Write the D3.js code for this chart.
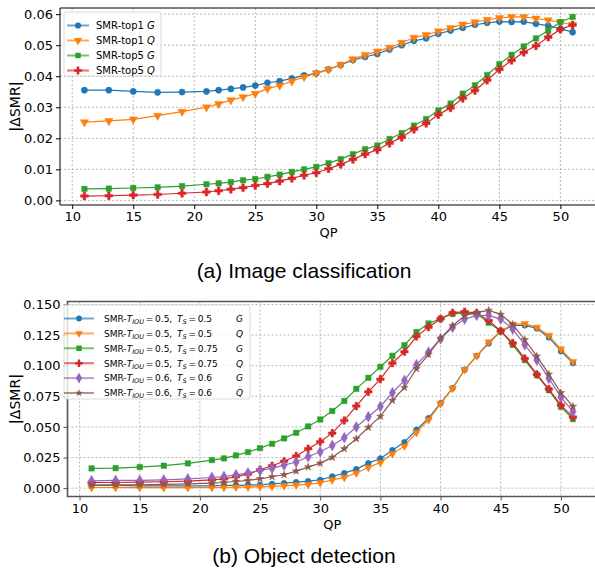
<!DOCTYPE html>
<html>
<head>
<meta charset="utf-8">
<script src="https://cdn.jsdelivr.net/npm/d3@7"></script>
<style>
  body { margin: 0; background: #fff; }
  svg { display: block; font-family: "DejaVu Sans", sans-serif; }
  .grid line { stroke: #b0b0b0; stroke-width: 0.9; stroke-dasharray: 2,2; }
  .axis path { display: none; }
  .axis text { fill: #000; }
  .caption { font-family: "Liberation Sans", Arial, sans-serif; font-size: 21px; }
</style>
</head>
<body>
<svg id="chart" width="595" height="578"></svg>
<script>
// QP values shared by both panels
const qp = [11, 13, 15, 17, 19, 21, 22, 23, 24, 25, 26, 27, 28, 29, 30, 31, 32, 33, 34, 35,
  36, 37, 38, 39, 40, 41, 42, 43, 44, 45, 46, 47, 48, 49, 50, 51];

// (a) Image classification
const top1G = [0.0355, 0.0355, 0.0351, 0.0348, 0.0349, 0.0351, 0.0355, 0.0359, 0.0364, 0.0370, 0.0379, 0.0384,
  0.0393, 0.0403, 0.0409, 0.0422, 0.0436, 0.0452, 0.0462, 0.0472, 0.0486, 0.0500, 0.0514, 0.0522, 0.0537,
  0.0547, 0.0556, 0.0566, 0.0572, 0.0576, 0.0575, 0.0576, 0.0569, 0.0563, 0.0553, 0.0542];
const top1Q = [0.0252, 0.0256, 0.0261, 0.0273, 0.0286, 0.0300, 0.0311, 0.0323, 0.0333, 0.0344, 0.0360, 0.0370,
  0.0384, 0.0398, 0.0410, 0.0422, 0.0437, 0.0455, 0.0469, 0.0480, 0.0492, 0.0508, 0.0524, 0.0533, 0.0545,
  0.0556, 0.0567, 0.0574, 0.0582, 0.0588, 0.0591, 0.0591, 0.0586, 0.0581, 0.0574, 0.0566];
const top5G = [0.0037, 0.0038, 0.0040, 0.0042, 0.0046, 0.0052, 0.0055, 0.0059, 0.0065, 0.0069, 0.0076, 0.0083,
  0.0092, 0.0100, 0.0108, 0.0120, 0.0133, 0.0149, 0.0165, 0.0177, 0.0198, 0.0217, 0.0241, 0.0262, 0.0290,
  0.0312, 0.0344, 0.0371, 0.0404, 0.0439, 0.0469, 0.0496, 0.0522, 0.0547, 0.0575, 0.0591];
const top5Q = [0.0014, 0.0015, 0.0017, 0.0019, 0.0023, 0.0027, 0.0031, 0.0036, 0.0041, 0.0048, 0.0054, 0.0062,
  0.0071, 0.0081, 0.0089, 0.0102, 0.0116, 0.0132, 0.0149, 0.0163, 0.0184, 0.0203, 0.0229, 0.0248, 0.0276,
  0.0298, 0.0329, 0.0354, 0.0387, 0.0422, 0.0451, 0.0477, 0.0498, 0.0526, 0.0551, 0.0565];

// (b) Object detection
const iou05ts05G = [0.0022, 0.0022, 0.0019, 0.0019, 0.0019, 0.0019, 0.0022, 0.0022, 0.0025, 0.0027, 0.0035, 0.0041,
  0.0049, 0.0057, 0.0068, 0.0095, 0.0123, 0.0155, 0.0204, 0.0242, 0.0310, 0.0376, 0.0477, 0.0572, 0.0694,
  0.0817, 0.0967, 0.1081, 0.1182, 0.1280, 0.1329, 0.1329, 0.1304, 0.1231, 0.1119, 0.1021];
const iou05ts05Q = [0.0005, 0.0005, 0.0004, 0.0004, 0.0004, 0.0005, 0.0005, 0.0008, 0.0008, 0.0011, 0.0014, 0.0019,
  0.0025, 0.0030, 0.0044, 0.0067, 0.0087, 0.0123, 0.0169, 0.0210, 0.0280, 0.0343, 0.0455, 0.0558, 0.0689,
  0.0814, 0.0967, 0.1081, 0.1193, 0.1283, 0.1337, 0.1343, 0.1313, 0.1247, 0.1136, 0.1032];
const iou05ts075G = [0.0161, 0.0163, 0.0172, 0.0183, 0.0202, 0.0229, 0.0243, 0.0267, 0.0294, 0.0327, 0.0362, 0.0406,
  0.0452, 0.0504, 0.0561, 0.0630, 0.0712, 0.0811, 0.0901, 0.0991, 0.1081, 0.1168, 0.1275, 0.1345, 0.1383,
  0.1424, 0.1430, 0.1424, 0.1351, 0.1283, 0.1171, 0.1046, 0.0923, 0.0801, 0.0664, 0.0564];
const iou05ts075Q = [0.0046, 0.0046, 0.0049, 0.0052, 0.0057, 0.0068, 0.0076, 0.0093, 0.0114, 0.0150, 0.0183, 0.0220,
  0.0262, 0.0322, 0.0379, 0.0449, 0.0553, 0.0670, 0.0787, 0.0890, 0.1021, 0.1114, 0.1239, 0.1315, 0.1383,
  0.1432, 0.1441, 0.1430, 0.1370, 0.1283, 0.1185, 0.1059, 0.0929, 0.0809, 0.0678, 0.0580];
const iou06ts06G = [0.0060, 0.0063, 0.0063, 0.0068, 0.0076, 0.0087, 0.0095, 0.0109, 0.0125, 0.0144, 0.0161, 0.0188,
  0.0213, 0.0256, 0.0297, 0.0348, 0.0412, 0.0499, 0.0583, 0.0667, 0.0779, 0.0880, 0.1008, 0.1111, 0.1220,
  0.1313, 0.1381, 0.1411, 0.1411, 0.1381, 0.1299, 0.1171, 0.1046, 0.0896, 0.0743, 0.0624];
const iou06ts06Q = [0.0025, 0.0027, 0.0027, 0.0030, 0.0035, 0.0041, 0.0046, 0.0054, 0.0063, 0.0076, 0.0093, 0.0109,
  0.0139, 0.0172, 0.0204, 0.0251, 0.0321, 0.0403, 0.0496, 0.0586, 0.0716, 0.0822, 0.0975, 0.1092, 0.1223,
  0.1326, 0.1408, 0.1435, 0.1452, 0.1419, 0.1337, 0.1212, 0.1078, 0.0931, 0.0779, 0.0667];

const xTicks = [10, 15, 20, 25, 30, 35, 40, 45, 50];
const yTicksA = [0, 0.01, 0.02, 0.03, 0.04, 0.05, 0.06];
const yTicksB = [0, 0.025, 0.05, 0.075, 0.1, 0.125, 0.15];

const colors = ['#1f77b4', '#ff7f0e', '#2ca02c', '#d62728', '#9467bd', '#8c564b'];

class LinePanel {

  constructor(_config, _series) {
    this.config = {
      parentElement: _config.parentElement,
      left: _config.left,
      top: _config.top,
      width: _config.width,
      height: _config.height,
      yTicks: _config.yTicks,
      yFormat: _config.yFormat,
      spineColor: _config.spineColor || '#000',
      spineWidth: _config.spineWidth || 1,
      legend: _config.legend
    };
    this.series = _series;
    this.initVis();
  }

  initVis() {
    let vis = this;
    const c = vis.config;

    vis.svg = d3.select(c.parentElement);
    vis.chart = vis.svg.append('g')
        .attr('transform', `translate(${c.left},${c.top})`);

    // matplotlib style 5% margins on both axes
    const [x0, x1] = d3.extent(qp);
    const xPad = (x1 - x0) * 0.05;
    vis.xScale = d3.scaleLinear()
        .domain([x0 - xPad, x1 + xPad])
        .range([0, c.width]);

    const [y0, y1] = d3.extent(vis.series.flatMap(s => s.values));
    const yPad = (y1 - y0) * 0.05;
    vis.yScale = d3.scaleLinear()
        .domain([y0 - yPad, y1 + yPad])
        .range([c.height, 0]);

    vis.renderVis();
  }

  renderVis() {
    let vis = this;
    const c = vis.config;

    // Grid
    vis.chart.append('g').attr('class', 'grid')
      .selectAll('line').data(xTicks).join('line')
        .attr('x1', d => vis.xScale(d)).attr('x2', d => vis.xScale(d))
        .attr('y1', 0).attr('y2', c.height);
    vis.chart.append('g').attr('class', 'grid')
      .selectAll('line').data(c.yTicks).join('line')
        .attr('x1', 0).attr('x2', c.width)
        .attr('y1', d => vis.yScale(d)).attr('y2', d => vis.yScale(d));

    const line = d3.line()
        .x((d, i) => vis.xScale(qp[i]))
        .y(d => vis.yScale(d));

    const groups = vis.chart.selectAll('.series')
        .data(vis.series)
      .join('g')
        .attr('class', 'series');

    groups.append('path')
        .attr('d', d => line(d.values))
        .attr('fill', 'none')
        .attr('stroke', d => d.color)
        .attr('stroke-width', 1.2);

    groups.each(function(s) {
      d3.select(this).selectAll('path.mark')
          .data(s.values)
        .join('path')
          .attr('class', 'mark')
          .attr('d', d3.symbol().type(s.symbol).size(s.size))
          .attr('transform', (d, i) => `translate(${vis.xScale(qp[i])},${vis.yScale(d)}) rotate(${s.rotate || 0})`)
          .attr('fill', s.color)
          .attr('stroke', s.color)
          .attr('stroke-opacity', 0.45)
          .attr('stroke-width', 1);
    });

    // Axes
    vis.chart.append('g')
        .attr('class', 'axis')
        .attr('transform', `translate(0,${c.height})`)
        .call(d3.axisBottom(vis.xScale).tickValues(xTicks).tickSize(4).tickPadding(3))
        .call(g => g.selectAll('text').attr('font-size', 13).attr('font-family', 'DejaVu Sans'))
        .call(g => g.selectAll('line').attr('stroke', c.spineColor));

    vis.chart.append('g')
        .attr('class', 'axis')
        .call(d3.axisLeft(vis.yScale).tickValues(c.yTicks).tickFormat(d3.format(c.yFormat)).tickSize(4).tickPadding(3))
        .call(g => g.selectAll('text').attr('font-size', 13).attr('font-family', 'DejaVu Sans'))
        .call(g => g.selectAll('line').attr('stroke', c.spineColor));

    // Spines (right one falls outside the picture)
    vis.chart.append('path')
        .attr('d', `M${c.width},0H0V${c.height}H${c.width}`)
        .attr('fill', 'none')
        .attr('stroke', c.spineColor)
        .attr('stroke-width', c.spineWidth);

    // Axis titles
    vis.chart.append('text')
        .attr('x', c.width / 2)
        .attr('y', c.height + 32)
        .attr('text-anchor', 'middle')
        .attr('font-size', 13)
        .text('QP');

    const yl = vis.chart.append('text')
        .attr('transform', `translate(${-c.left + 20},${c.height / 2}) rotate(-90)`)
        .attr('text-anchor', 'middle')
        .attr('font-size', 14);
    yl.append('tspan').attr('font-weight', 'bold').text('|');
    yl.append('tspan').text('ΔSMR');
    yl.append('tspan').attr('font-weight', 'bold').text('|');

    vis.renderLegend();
  }

  renderLegend() {
    let vis = this;
    const L = vis.config.legend;

    const lg = vis.chart.append('g')
        .attr('transform', `translate(${L.x},${L.y})`);

    lg.append('rect')
        .attr('width', L.width)
        .attr('height', L.height)
        .attr('rx', 2)
        .attr('fill', '#fff')
        .attr('fill-opacity', 0.8)
        .attr('stroke', '#d0d0d0')
        .attr('stroke-width', 0.8);

    const rows = lg.selectAll('.entry')
        .data(vis.series)
      .join('g')
        .attr('class', 'entry')
        .attr('transform', (d, i) => `translate(0,${L.first + i * L.step})`);

    rows.append('line')
        .attr('x1', L.lineX0).attr('x2', L.lineX1)
        .attr('stroke', d => d.color)
        .attr('stroke-opacity', 0.65)
        .attr('stroke-width', 2);

    rows.append('path')
        .attr('d', d => d3.symbol().type(d.symbol).size(d.size)())
        .attr('transform', d => `translate(${(L.lineX0 + L.lineX1) / 2},0) rotate(${d.rotate || 0})`)
        .attr('fill', d => d.color);

    rows.each(function(d) {
      L.label(d3.select(this), d);
    });
  }
}

const triDown = 180;
const thin = '\u2009';

// Panel (a)
const seriesA = [
  {name: 'SMR-top1', tag: 'G', values: top1G, color: colors[0], symbol: d3.symbolCircle, size: 30},
  {name: 'SMR-top1', tag: 'Q', values: top1Q, color: colors[1], symbol: d3.symbolTriangle, size: 30, rotate: triDown},
  {name: 'SMR-top5', tag: 'G', values: top5G, color: colors[2], symbol: d3.symbolSquare, size: 30},
  {name: 'SMR-top5', tag: 'Q', values: top5Q, color: colors[3], symbol: d3.symbolCross, size: 34}
];

new LinePanel({
  parentElement: '#chart',
  left: 60, top: 8, width: 537, height: 197,
  yTicks: yTicksA, yFormat: '.2f',
  spineColor: '#000', spineWidth: 1,
  legend: {
    x: 4, y: 4, width: 97, height: 64, first: 13.5, step: 15,
    lineX0: 3, lineX1: 25,
    label: (g, d) => {
      const t = g.append('text').attr('x', 32).attr('y', 3.6).attr('font-size', 10);
      t.append('tspan').text(d.name + ' ');
      t.append('tspan').attr('font-style', 'italic').text(d.tag);
    }
  }
}, seriesA);

// Panel (b)
const seriesB = [
  {iou: '0.5', ts: '0.5', tag: 'G', values: iou05ts05G, color: colors[0], symbol: d3.symbolCircle, size: 26},
  {iou: '0.5', ts: '0.5', tag: 'Q', values: iou05ts05Q, color: colors[1], symbol: d3.symbolTriangle, size: 26, rotate: triDown},
  {iou: '0.5', ts: '0.75', tag: 'G', values: iou05ts075G, color: colors[2], symbol: d3.symbolSquare, size: 30},
  {iou: '0.5', ts: '0.75', tag: 'Q', values: iou05ts075Q, color: colors[3], symbol: d3.symbolCross, size: 32},
  {iou: '0.6', ts: '0.6', tag: 'G', values: iou06ts06G, color: colors[4], symbol: d3.symbolDiamond, size: 34},
  {iou: '0.6', ts: '0.6', tag: 'Q', values: iou06ts06Q, color: colors[5], symbol: d3.symbolStar, size: 18}
];

new LinePanel({
  parentElement: '#chart',
  left: 67.5, top: 301.5, width: 529.5, height: 195,
  yTicks: yTicksB, yFormat: '.3f',
  spineColor: '#555', spineWidth: 1.6,
  legend: {
    x: -3.5, y: 3.5, width: 186, height: 94, first: 13.5, step: 14.9,
    lineX0: 0, lineX1: 30,
    label: (g, d) => {
      const t1 = g.append('text').attr('x', 40).attr('y', 3.3).attr('font-size', 9);
      t1.append('tspan').text('SMR-');
      t1.append('tspan').attr('font-style', 'italic').text('T');
      t1.append('tspan').attr('font-style', 'italic').attr('font-size', 6.5).attr('dy', 2).text('IOU');
      t1.append('tspan').attr('dy', -2).text(`${thin}=${thin}${d.iou},`);
      const t2 = g.append('text').attr('x', 113).attr('y', 3.3).attr('font-size', 9);
      t2.append('tspan').attr('font-style', 'italic').text('T');
      t2.append('tspan').attr('font-style', 'italic').attr('font-size', 6.5).attr('dy', 2).text('S');
      t2.append('tspan').attr('dy', -2).text(`${thin}=${thin}${d.ts}`);
      g.append('text').attr('x', 172).attr('y', 3.3).attr('font-size', 9)
          .attr('font-style', 'italic').text(d.tag);
    }
  }
}, seriesB);

// Captions
const svg = d3.select('#chart');
svg.append('text').attr('class', 'caption')
    .attr('x', 304).attr('y', 278).attr('text-anchor', 'middle')
    .text('(a) Image classification');
svg.append('text').attr('class', 'caption')
    .attr('x', 304).attr('y', 563).attr('text-anchor', 'middle')
    .text('(b) Object detection');
</script>
</body>
</html>
